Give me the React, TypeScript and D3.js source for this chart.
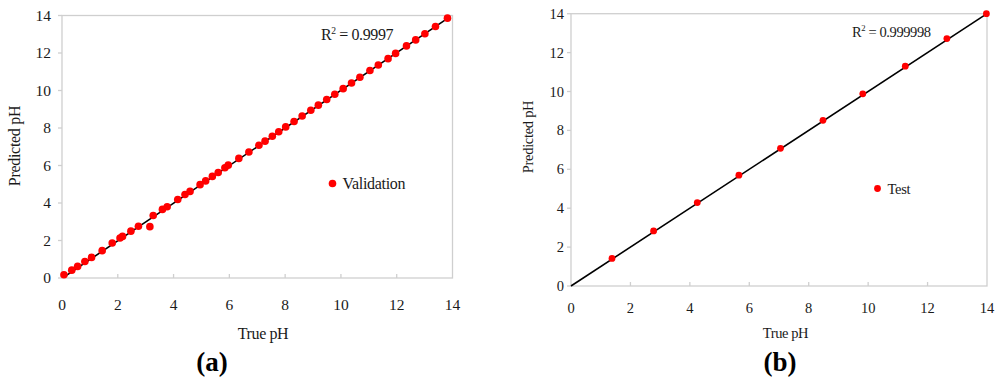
import React from "react";
import * as d3 from "d3";

// Panel (a): validation set
const valTrue = [0.07, 0.35, 0.56, 0.82, 1.06, 1.44, 1.8, 2.08, 2.17, 2.47, 2.74, 3.15, 3.27, 3.6, 3.77, 4.15, 4.41, 4.59, 4.95, 5.15, 5.39, 5.6, 5.84, 5.96, 6.34, 6.7, 7.06, 7.28, 7.54, 7.77, 8.02, 8.32, 8.61, 8.92, 9.19, 9.49, 9.78, 10.08, 10.38, 10.68, 11.04, 11.34, 11.69, 11.96, 12.35, 12.68, 13.01, 13.39, 13.82];
const valPred = [0.17, 0.42, 0.62, 0.88, 1.1, 1.46, 1.87, 2.13, 2.22, 2.5, 2.76, 2.74, 3.33, 3.66, 3.8, 4.19, 4.45, 4.62, 4.98, 5.18, 5.42, 5.63, 5.88, 6.02, 6.38, 6.72, 7.08, 7.3, 7.56, 7.8, 8.06, 8.35, 8.64, 8.95, 9.22, 9.52, 9.8, 10.1, 10.4, 10.71, 11.07, 11.36, 11.7, 11.98, 12.38, 12.7, 13.03, 13.41, 13.86];
const valFitX = [0.08, 13.85];
const valFitY = [0.06, 13.87];

// Panel (b): test set
const testTrue = [1.38, 2.78, 4.25, 5.65, 7.05, 8.48, 9.82, 11.25, 12.65, 13.98];
const testPred = [1.42, 2.83, 4.29, 5.7, 7.08, 8.52, 9.88, 11.3, 12.72, 14.0];
const testFitX = [0, 14];
const testFitY = [0, 14];

const ticks = [0, 2, 4, 6, 8, 10, 12, 14];

const FONT = "'Liberation Serif', 'Times New Roman', serif";
const AXIS = "#cfcfcf";
const TXT = "#1a1a1a";

type PanelProps = {
  x0: number; x1: number; y0: number; y1: number;
  xs: number[]; ys: number[]; fx: number[]; fy: number[];
  r: number; tickFont: number; titleFont: number;
  yLabelEnd: number; xLabelBase: number;
  xTitle: [number, number]; yTitle: [number, number];
  r2: string; r2Pos: [number, number];
  legend: string; legPos: [number, number];
  tag: string; tagPos: [number, number];
};

function Panel(p: PanelProps) {
  const x = d3.scaleLinear().domain([0, 14]).range([p.x0, p.x1]);
  const y = d3.scaleLinear().domain([0, 14]).range([p.y0, p.y1]);
  const line = d3.line<number>().x((d, i) => x(p.fx[i])).y((d, i) => y(p.fy[i]));
  return (
    <g fontFamily={FONT} fill={TXT}>
      <rect x={p.x0} y={p.y1} width={p.x1 - p.x0} height={p.y0 - p.y1} fill="none" stroke={AXIS} strokeWidth={1.3} />
      {ticks.map((t) => (
        <g key={"y" + t}>
          <line x1={p.x0 - 4} x2={p.x0} y1={y(t)} y2={y(t)} stroke={AXIS} strokeWidth={1.3} />
          <text x={p.yLabelEnd} y={y(t) + p.tickFont * 0.35} textAnchor="end" fontSize={p.tickFont}>{t}</text>
        </g>
      ))}
      {ticks.map((t) => (
        <g key={"x" + t}>
          {t > 0 && t < 14 && <line x1={x(t)} x2={x(t)} y1={p.y0} y2={p.y0 - 4} stroke={AXIS} strokeWidth={1.3} />}
          <text x={x(t)} y={p.xLabelBase} textAnchor="middle" fontSize={p.tickFont}>{t}</text>
        </g>
      ))}
      <path d={line(p.fx) || ""} stroke="#000" strokeWidth={1.6} fill="none" />
      {p.xs.map((v, i) => (
        <circle key={i} cx={x(v)} cy={y(p.ys[i])} r={p.r} fill="#ff0000" />
      ))}
      <text x={p.xTitle[0]} y={p.xTitle[1]} textAnchor="middle" fontSize={p.titleFont} letterSpacing={-0.4}>True pH</text>
      <text transform={`translate(${p.yTitle[0]},${p.yTitle[1]}) rotate(-90)`} textAnchor="middle" fontSize={p.titleFont} letterSpacing={-0.3}>Predicted pH</text>
      <text x={p.r2Pos[0]} y={p.r2Pos[1]} fontSize={p.titleFont} letterSpacing={-0.4}>
        R<tspan dy={-6} fontSize={p.titleFont * 0.6}>2</tspan><tspan dy={6}> = {p.r2}</tspan>
      </text>
      <circle cx={p.legPos[0]} cy={p.legPos[1]} r={p.r} fill="#ff0000" />
      <text x={p.legPos[0] + 10} y={p.legPos[1] + 5} fontSize={p.titleFont} letterSpacing={-0.3}>{p.legend}</text>
      <text x={p.tagPos[0]} y={p.tagPos[1]} textAnchor="middle" fontSize={27} fontWeight="bold" fill="#000">
        (<tspan>{p.tag}</tspan>)
      </text>
    </g>
  );
}

export default function App() {
  return (
    <svg width={1000} height={388} style={{ position: "absolute", left: 0, top: 0, background: "#fff" }}>
      <rect width={1000} height={388} fill="#fff" />
      <Panel
        x0={62} x1={452.5} y0={278} y1={15.5}
        xs={valTrue} ys={valPred} fx={valFitX} fy={valFitY}
        r={3.8} tickFont={15.5} titleFont={16}
        yLabelEnd={51} xLabelBase={310}
        xTitle={[263, 339]} yTitle={[20, 146]}
        r2="0.9997" r2Pos={[321, 40]}
        legend="Validation" legPos={[332.5, 183.5]}
        tag="a" tagPos={[212, 371]}
      />
      <Panel
        x0={571} x1={987} y0={286} y1={13.7}
        xs={testTrue} ys={testPred} fx={testFitX} fy={testFitY}
        r={3.4} tickFont={14.5} titleFont={14.5}
        yLabelEnd={564} xLabelBase={313}
        xTitle={[785.5, 338]} yTitle={[533, 137]}
        r2="0.999998" r2Pos={[852, 37]}
        legend="Test" legPos={[877.5, 188.5]}
        tag="b" tagPos={[780, 371]}
      />
    </svg>
  );
}
